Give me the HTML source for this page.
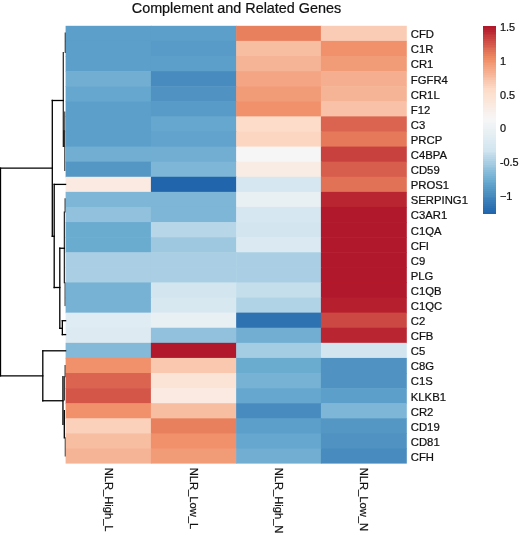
<!DOCTYPE html>
<html><head><meta charset="utf-8"><title>Complement and Related Genes</title>
<style>html,body{margin:0;padding:0;background:#fff}svg{display:block;will-change:transform}text{font-family:"Liberation Sans",Arial,Helvetica,sans-serif;fill:#111;stroke:#111;stroke-width:0.22px}</style></head><body>
<svg width="520" height="534" viewBox="0 0 520 534">
<rect width="520" height="534" fill="#fff"/>
<text x="236.5" y="12.7" font-size="15.1" text-anchor="middle" textLength="209.5" lengthAdjust="spacingAndGlyphs">Complement and Related Genes</text>
<g>
<rect x="65.60" y="25.80" width="85.90" height="15.70" fill="#5c9fca"/>
<rect x="150.90" y="25.80" width="85.85" height="15.70" fill="#5c9fca"/>
<rect x="236.15" y="25.80" width="85.35" height="15.70" fill="#e9805d"/>
<rect x="320.90" y="25.80" width="85.90" height="15.70" fill="#faccb5"/>
<rect x="65.60" y="40.90" width="85.90" height="15.70" fill="#5c9fca"/>
<rect x="150.90" y="40.90" width="85.85" height="15.70" fill="#589bc8"/>
<rect x="236.15" y="40.90" width="85.35" height="15.70" fill="#f8bea2"/>
<rect x="320.90" y="40.90" width="85.90" height="15.70" fill="#f0916b"/>
<rect x="65.60" y="55.99" width="85.90" height="15.70" fill="#5c9fca"/>
<rect x="150.90" y="55.99" width="85.85" height="15.70" fill="#5c9fca"/>
<rect x="236.15" y="55.99" width="85.35" height="15.70" fill="#f6b496"/>
<rect x="320.90" y="55.99" width="85.90" height="15.70" fill="#f29b77"/>
<rect x="65.60" y="71.09" width="85.90" height="15.70" fill="#71aed2"/>
<rect x="150.90" y="71.09" width="85.85" height="15.70" fill="#478bbf"/>
<rect x="236.15" y="71.09" width="85.35" height="15.70" fill="#f4a584"/>
<rect x="320.90" y="71.09" width="85.90" height="15.70" fill="#f5af90"/>
<rect x="65.60" y="86.19" width="85.90" height="15.70" fill="#65a7ce"/>
<rect x="150.90" y="86.19" width="85.85" height="15.70" fill="#5093c3"/>
<rect x="236.15" y="86.19" width="85.35" height="15.70" fill="#f29b77"/>
<rect x="320.90" y="86.19" width="85.90" height="15.70" fill="#f6b496"/>
<rect x="65.60" y="101.28" width="85.90" height="15.70" fill="#5c9fca"/>
<rect x="150.90" y="101.28" width="85.85" height="15.70" fill="#589bc8"/>
<rect x="236.15" y="101.28" width="85.35" height="15.70" fill="#f0916b"/>
<rect x="320.90" y="101.28" width="85.90" height="15.70" fill="#f9c2a8"/>
<rect x="65.60" y="116.38" width="85.90" height="15.70" fill="#5c9fca"/>
<rect x="150.90" y="116.38" width="85.85" height="15.70" fill="#65a7ce"/>
<rect x="236.15" y="116.38" width="85.35" height="15.70" fill="#fdddca"/>
<rect x="320.90" y="116.38" width="85.90" height="15.70" fill="#db6450"/>
<rect x="65.60" y="131.48" width="85.90" height="15.70" fill="#5c9fca"/>
<rect x="150.90" y="131.48" width="85.85" height="15.70" fill="#61a3cc"/>
<rect x="236.15" y="131.48" width="85.35" height="15.70" fill="#fcd6c1"/>
<rect x="320.90" y="131.48" width="85.90" height="15.70" fill="#e6795a"/>
<rect x="65.60" y="146.57" width="85.90" height="15.70" fill="#71aed2"/>
<rect x="150.90" y="146.57" width="85.85" height="15.70" fill="#71aed2"/>
<rect x="236.15" y="146.57" width="85.35" height="15.70" fill="#f7f6f6"/>
<rect x="320.90" y="146.57" width="85.90" height="15.70" fill="#c8413f"/>
<rect x="65.60" y="161.67" width="85.90" height="15.70" fill="#5497c5"/>
<rect x="150.90" y="161.67" width="85.85" height="15.70" fill="#7db6d6"/>
<rect x="236.15" y="161.67" width="85.35" height="15.70" fill="#f9ece4"/>
<rect x="320.90" y="161.67" width="85.90" height="15.70" fill="#d75d4c"/>
<rect x="65.60" y="176.77" width="85.90" height="15.70" fill="#faeae1"/>
<rect x="150.90" y="176.77" width="85.85" height="15.70" fill="#2166ac"/>
<rect x="236.15" y="176.77" width="85.35" height="15.70" fill="#d6e7f1"/>
<rect x="320.90" y="176.77" width="85.90" height="15.70" fill="#e27256"/>
<rect x="65.60" y="191.86" width="85.90" height="15.70" fill="#7db6d6"/>
<rect x="150.90" y="191.86" width="85.85" height="15.70" fill="#7db6d6"/>
<rect x="236.15" y="191.86" width="85.35" height="15.70" fill="#e8f0f4"/>
<rect x="320.90" y="191.86" width="85.90" height="15.70" fill="#b92632"/>
<rect x="65.60" y="206.96" width="85.90" height="15.70" fill="#91c1dc"/>
<rect x="150.90" y="206.96" width="85.85" height="15.70" fill="#7db6d6"/>
<rect x="236.15" y="206.96" width="85.35" height="15.70" fill="#d6e7f1"/>
<rect x="320.90" y="206.96" width="85.90" height="15.70" fill="#b2182b"/>
<rect x="65.60" y="222.06" width="85.90" height="15.70" fill="#6aabd0"/>
<rect x="150.90" y="222.06" width="85.85" height="15.70" fill="#b7d6e8"/>
<rect x="236.15" y="222.06" width="85.35" height="15.70" fill="#d3e6f0"/>
<rect x="320.90" y="222.06" width="85.90" height="15.70" fill="#b2182b"/>
<rect x="65.60" y="237.15" width="85.90" height="15.70" fill="#6aabd0"/>
<rect x="150.90" y="237.15" width="85.85" height="15.70" fill="#9ec8e0"/>
<rect x="236.15" y="237.15" width="85.35" height="15.70" fill="#dae9f2"/>
<rect x="320.90" y="237.15" width="85.90" height="15.70" fill="#b2182b"/>
<rect x="65.60" y="252.25" width="85.90" height="15.70" fill="#aacfe4"/>
<rect x="150.90" y="252.25" width="85.85" height="15.70" fill="#aacfe4"/>
<rect x="236.15" y="252.25" width="85.35" height="15.70" fill="#aacfe4"/>
<rect x="320.90" y="252.25" width="85.90" height="15.70" fill="#b2182b"/>
<rect x="65.60" y="267.34" width="85.90" height="15.70" fill="#aacfe4"/>
<rect x="150.90" y="267.34" width="85.85" height="15.70" fill="#aacfe4"/>
<rect x="236.15" y="267.34" width="85.35" height="15.70" fill="#aacfe4"/>
<rect x="320.90" y="267.34" width="85.90" height="15.70" fill="#b2182b"/>
<rect x="65.60" y="282.44" width="85.90" height="15.70" fill="#77b2d4"/>
<rect x="150.90" y="282.44" width="85.85" height="15.70" fill="#d3e6f0"/>
<rect x="236.15" y="282.44" width="85.35" height="15.70" fill="#c4deec"/>
<rect x="320.90" y="282.44" width="85.90" height="15.70" fill="#b2182b"/>
<rect x="65.60" y="297.54" width="85.90" height="15.70" fill="#77b2d4"/>
<rect x="150.90" y="297.54" width="85.85" height="15.70" fill="#d8e8f1"/>
<rect x="236.15" y="297.54" width="85.35" height="15.70" fill="#b1d3e6"/>
<rect x="320.90" y="297.54" width="85.90" height="15.70" fill="#b61f2e"/>
<rect x="65.60" y="312.63" width="85.90" height="15.70" fill="#dfecf3"/>
<rect x="150.90" y="312.63" width="85.85" height="15.70" fill="#e8f0f4"/>
<rect x="236.15" y="312.63" width="85.35" height="15.70" fill="#2e72b2"/>
<rect x="320.90" y="312.63" width="85.90" height="15.70" fill="#cc4842"/>
<rect x="65.60" y="327.73" width="85.90" height="15.70" fill="#ddeaf2"/>
<rect x="150.90" y="327.73" width="85.85" height="15.70" fill="#91c1dc"/>
<rect x="236.15" y="327.73" width="85.35" height="15.70" fill="#71aed2"/>
<rect x="320.90" y="327.73" width="85.90" height="15.70" fill="#b92632"/>
<rect x="65.60" y="342.83" width="85.90" height="15.70" fill="#84b9d8"/>
<rect x="150.90" y="342.83" width="85.85" height="15.70" fill="#b2182b"/>
<rect x="236.15" y="342.83" width="85.35" height="15.70" fill="#a4cce2"/>
<rect x="320.90" y="342.83" width="85.90" height="15.70" fill="#d3e6f0"/>
<rect x="65.60" y="357.92" width="85.90" height="15.70" fill="#f0916b"/>
<rect x="150.90" y="357.92" width="85.85" height="15.70" fill="#fac7af"/>
<rect x="236.15" y="357.92" width="85.35" height="15.70" fill="#6aabd0"/>
<rect x="320.90" y="357.92" width="85.90" height="15.70" fill="#5093c3"/>
<rect x="65.60" y="373.02" width="85.90" height="15.70" fill="#db6450"/>
<rect x="150.90" y="373.02" width="85.85" height="15.70" fill="#fbe3d6"/>
<rect x="236.15" y="373.02" width="85.35" height="15.70" fill="#77b2d4"/>
<rect x="320.90" y="373.02" width="85.90" height="15.70" fill="#5093c3"/>
<rect x="65.60" y="388.12" width="85.90" height="15.70" fill="#d35649"/>
<rect x="150.90" y="388.12" width="85.85" height="15.70" fill="#faeae1"/>
<rect x="236.15" y="388.12" width="85.35" height="15.70" fill="#65a7ce"/>
<rect x="320.90" y="388.12" width="85.90" height="15.70" fill="#5c9fca"/>
<rect x="65.60" y="403.21" width="85.90" height="15.70" fill="#f0916b"/>
<rect x="150.90" y="403.21" width="85.85" height="15.70" fill="#f8bea2"/>
<rect x="236.15" y="403.21" width="85.35" height="15.70" fill="#478bbf"/>
<rect x="320.90" y="403.21" width="85.90" height="15.70" fill="#7db6d6"/>
<rect x="65.60" y="418.31" width="85.90" height="15.70" fill="#fbd1bb"/>
<rect x="150.90" y="418.31" width="85.85" height="15.70" fill="#e9805d"/>
<rect x="236.15" y="418.31" width="85.35" height="15.70" fill="#5c9fca"/>
<rect x="320.90" y="418.31" width="85.90" height="15.70" fill="#5497c5"/>
<rect x="65.60" y="433.41" width="85.90" height="15.70" fill="#f8bea2"/>
<rect x="150.90" y="433.41" width="85.85" height="15.70" fill="#f0916b"/>
<rect x="236.15" y="433.41" width="85.35" height="15.70" fill="#65a7ce"/>
<rect x="320.90" y="433.41" width="85.90" height="15.70" fill="#5093c3"/>
<rect x="65.60" y="448.50" width="85.90" height="15.10" fill="#f6b496"/>
<rect x="150.90" y="448.50" width="85.85" height="15.10" fill="#f29b77"/>
<rect x="236.15" y="448.50" width="85.35" height="15.10" fill="#71aed2"/>
<rect x="320.90" y="448.50" width="85.90" height="15.10" fill="#478bbf"/>
</g>
<g font-size="11.3">
<text x="410.8" y="38.25">CFD</text>
<text x="410.8" y="53.34">C1R</text>
<text x="410.8" y="68.44">CR1</text>
<text x="410.8" y="83.54">FGFR4</text>
<text x="410.8" y="98.63">CR1L</text>
<text x="410.8" y="113.73">F12</text>
<text x="410.8" y="128.83">C3</text>
<text x="410.8" y="143.92">PRCP</text>
<text x="410.8" y="159.02">C4BPA</text>
<text x="410.8" y="174.12">CD59</text>
<text x="410.8" y="189.21">PROS1</text>
<text x="410.8" y="204.31">SERPING1</text>
<text x="410.8" y="219.41">C3AR1</text>
<text x="410.8" y="234.50">C1QA</text>
<text x="410.8" y="249.60">CFI</text>
<text x="410.8" y="264.70">C9</text>
<text x="410.8" y="279.79">PLG</text>
<text x="410.8" y="294.89">C1QB</text>
<text x="410.8" y="309.99">C1QC</text>
<text x="410.8" y="325.08">C2</text>
<text x="410.8" y="340.18">CFB</text>
<text x="410.8" y="355.28">C5</text>
<text x="410.8" y="370.37">C8G</text>
<text x="410.8" y="385.47">C1S</text>
<text x="410.8" y="400.57">KLKB1</text>
<text x="410.8" y="415.66">CR2</text>
<text x="410.8" y="430.76">CD19</text>
<text x="410.8" y="445.86">CD81</text>
<text x="410.8" y="460.95">CFH</text>
</g>
<g font-size="11.17">
<text transform="translate(104.85,467.7) rotate(90)">NLR_High_L</text>
<text transform="translate(190.12,467.7) rotate(90)">NLR_Low_L</text>
<text transform="translate(275.12,467.7) rotate(90)">NLR_High_N</text>
<text transform="translate(360.45,467.7) rotate(90)">NLR_Low_N</text>
</g>
<g shape-rendering="crispEdges">
<rect x="482.90" y="26.00" width="12.60" height="2.27" fill="#b2182b"/>
<rect x="482.90" y="27.87" width="12.60" height="2.27" fill="#b61f2e"/>
<rect x="482.90" y="29.75" width="12.60" height="2.27" fill="#b92632"/>
<rect x="482.90" y="31.62" width="12.60" height="2.27" fill="#bd2d35"/>
<rect x="482.90" y="33.50" width="12.60" height="2.27" fill="#c13438"/>
<rect x="482.90" y="35.37" width="12.60" height="2.27" fill="#c43b3c"/>
<rect x="482.90" y="37.24" width="12.60" height="2.27" fill="#c8413f"/>
<rect x="482.90" y="39.12" width="12.60" height="2.27" fill="#cc4842"/>
<rect x="482.90" y="40.99" width="12.60" height="2.27" fill="#d04f46"/>
<rect x="482.90" y="42.87" width="12.60" height="2.27" fill="#d35649"/>
<rect x="482.90" y="44.74" width="12.60" height="2.27" fill="#d75d4c"/>
<rect x="482.90" y="46.61" width="12.60" height="2.27" fill="#db6450"/>
<rect x="482.90" y="48.49" width="12.60" height="2.27" fill="#de6b53"/>
<rect x="482.90" y="50.36" width="12.60" height="2.27" fill="#e27256"/>
<rect x="482.90" y="52.24" width="12.60" height="2.27" fill="#e6795a"/>
<rect x="482.90" y="54.11" width="12.60" height="2.27" fill="#e9805d"/>
<rect x="482.90" y="55.98" width="12.60" height="2.27" fill="#ed8760"/>
<rect x="482.90" y="57.86" width="12.60" height="2.27" fill="#ef8c65"/>
<rect x="482.90" y="59.73" width="12.60" height="2.27" fill="#f0916b"/>
<rect x="482.90" y="61.61" width="12.60" height="2.27" fill="#f19671"/>
<rect x="482.90" y="63.48" width="12.60" height="2.27" fill="#f29b77"/>
<rect x="482.90" y="65.35" width="12.60" height="2.27" fill="#f3a07e"/>
<rect x="482.90" y="67.23" width="12.60" height="2.27" fill="#f4a584"/>
<rect x="482.90" y="69.10" width="12.60" height="2.27" fill="#f5aa8a"/>
<rect x="482.90" y="70.98" width="12.60" height="2.27" fill="#f5af90"/>
<rect x="482.90" y="72.85" width="12.60" height="2.27" fill="#f6b496"/>
<rect x="482.90" y="74.72" width="12.60" height="2.27" fill="#f7b99c"/>
<rect x="482.90" y="76.60" width="12.60" height="2.27" fill="#f8bea2"/>
<rect x="482.90" y="78.47" width="12.60" height="2.27" fill="#f9c2a8"/>
<rect x="482.90" y="80.35" width="12.60" height="2.27" fill="#fac7af"/>
<rect x="482.90" y="82.22" width="12.60" height="2.27" fill="#faccb5"/>
<rect x="482.90" y="84.09" width="12.60" height="2.27" fill="#fbd1bb"/>
<rect x="482.90" y="85.97" width="12.60" height="2.27" fill="#fcd6c1"/>
<rect x="482.90" y="87.84" width="12.60" height="2.27" fill="#fddbc7"/>
<rect x="482.90" y="89.72" width="12.60" height="2.27" fill="#fdddca"/>
<rect x="482.90" y="91.59" width="12.60" height="2.27" fill="#fcdecd"/>
<rect x="482.90" y="93.46" width="12.60" height="2.27" fill="#fce0d0"/>
<rect x="482.90" y="95.34" width="12.60" height="2.27" fill="#fce2d3"/>
<rect x="482.90" y="97.21" width="12.60" height="2.27" fill="#fbe3d6"/>
<rect x="482.90" y="99.09" width="12.60" height="2.27" fill="#fbe5d8"/>
<rect x="482.90" y="100.96" width="12.60" height="2.27" fill="#fae7db"/>
<rect x="482.90" y="102.83" width="12.60" height="2.27" fill="#fae9de"/>
<rect x="482.90" y="104.71" width="12.60" height="2.27" fill="#faeae1"/>
<rect x="482.90" y="106.58" width="12.60" height="2.27" fill="#f9ece4"/>
<rect x="482.90" y="108.46" width="12.60" height="2.27" fill="#f9eee7"/>
<rect x="482.90" y="110.33" width="12.60" height="2.27" fill="#f9efea"/>
<rect x="482.90" y="112.20" width="12.60" height="2.27" fill="#f8f1ed"/>
<rect x="482.90" y="114.08" width="12.60" height="2.27" fill="#f8f3f0"/>
<rect x="482.90" y="115.95" width="12.60" height="2.27" fill="#f8f4f3"/>
<rect x="482.90" y="117.83" width="12.60" height="2.27" fill="#f7f6f6"/>
<rect x="482.90" y="119.70" width="12.60" height="2.27" fill="#f6f6f7"/>
<rect x="482.90" y="121.57" width="12.60" height="2.27" fill="#f4f5f6"/>
<rect x="482.90" y="123.45" width="12.60" height="2.27" fill="#f1f4f6"/>
<rect x="482.90" y="125.32" width="12.60" height="2.27" fill="#eff3f6"/>
<rect x="482.90" y="127.20" width="12.60" height="2.27" fill="#edf2f5"/>
<rect x="482.90" y="129.07" width="12.60" height="2.27" fill="#eaf1f5"/>
<rect x="482.90" y="130.94" width="12.60" height="2.27" fill="#e8f0f4"/>
<rect x="482.90" y="132.82" width="12.60" height="2.27" fill="#e6eff4"/>
<rect x="482.90" y="134.69" width="12.60" height="2.27" fill="#e3eef3"/>
<rect x="482.90" y="136.57" width="12.60" height="2.27" fill="#e1edf3"/>
<rect x="482.90" y="138.44" width="12.60" height="2.27" fill="#dfecf3"/>
<rect x="482.90" y="140.31" width="12.60" height="2.27" fill="#ddeaf2"/>
<rect x="482.90" y="142.19" width="12.60" height="2.27" fill="#dae9f2"/>
<rect x="482.90" y="144.06" width="12.60" height="2.27" fill="#d8e8f1"/>
<rect x="482.90" y="145.94" width="12.60" height="2.27" fill="#d6e7f1"/>
<rect x="482.90" y="147.81" width="12.60" height="2.27" fill="#d3e6f0"/>
<rect x="482.90" y="149.68" width="12.60" height="2.27" fill="#d1e5f0"/>
<rect x="482.90" y="151.56" width="12.60" height="2.27" fill="#cbe1ee"/>
<rect x="482.90" y="153.43" width="12.60" height="2.27" fill="#c4deec"/>
<rect x="482.90" y="155.31" width="12.60" height="2.27" fill="#bedaea"/>
<rect x="482.90" y="157.18" width="12.60" height="2.27" fill="#b7d6e8"/>
<rect x="482.90" y="159.05" width="12.60" height="2.27" fill="#b1d3e6"/>
<rect x="482.90" y="160.93" width="12.60" height="2.27" fill="#aacfe4"/>
<rect x="482.90" y="162.80" width="12.60" height="2.27" fill="#a4cce2"/>
<rect x="482.90" y="164.68" width="12.60" height="2.27" fill="#9ec8e0"/>
<rect x="482.90" y="166.55" width="12.60" height="2.27" fill="#97c4de"/>
<rect x="482.90" y="168.42" width="12.60" height="2.27" fill="#91c1dc"/>
<rect x="482.90" y="170.30" width="12.60" height="2.27" fill="#8abdda"/>
<rect x="482.90" y="172.17" width="12.60" height="2.27" fill="#84b9d8"/>
<rect x="482.90" y="174.05" width="12.60" height="2.27" fill="#7db6d6"/>
<rect x="482.90" y="175.92" width="12.60" height="2.27" fill="#77b2d4"/>
<rect x="482.90" y="177.79" width="12.60" height="2.27" fill="#71aed2"/>
<rect x="482.90" y="179.67" width="12.60" height="2.27" fill="#6aabd0"/>
<rect x="482.90" y="181.54" width="12.60" height="2.27" fill="#65a7ce"/>
<rect x="482.90" y="183.42" width="12.60" height="2.27" fill="#61a3cc"/>
<rect x="482.90" y="185.29" width="12.60" height="2.27" fill="#5c9fca"/>
<rect x="482.90" y="187.16" width="12.60" height="2.27" fill="#589bc8"/>
<rect x="482.90" y="189.04" width="12.60" height="2.27" fill="#5497c5"/>
<rect x="482.90" y="190.91" width="12.60" height="2.27" fill="#5093c3"/>
<rect x="482.90" y="192.79" width="12.60" height="2.27" fill="#4b8fc1"/>
<rect x="482.90" y="194.66" width="12.60" height="2.27" fill="#478bbf"/>
<rect x="482.90" y="196.53" width="12.60" height="2.27" fill="#4386bd"/>
<rect x="482.90" y="198.41" width="12.60" height="2.27" fill="#3f82bb"/>
<rect x="482.90" y="200.28" width="12.60" height="2.27" fill="#3a7eb9"/>
<rect x="482.90" y="202.16" width="12.60" height="2.27" fill="#367ab7"/>
<rect x="482.90" y="204.03" width="12.60" height="2.27" fill="#3276b4"/>
<rect x="482.90" y="205.90" width="12.60" height="2.27" fill="#2e72b2"/>
<rect x="482.90" y="207.78" width="12.60" height="2.27" fill="#296eb0"/>
<rect x="482.90" y="209.65" width="12.60" height="2.27" fill="#256aae"/>
<rect x="482.90" y="211.53" width="12.60" height="2.27" fill="#2166ac"/>
</g>
<g font-size="10.9">
<text x="499.9" y="31.20">1.5</text>
<text x="499.9" y="64.90">1</text>
<text x="499.9" y="98.60">0.5</text>
<text x="499.9" y="132.20">0</text>
<text x="499.9" y="165.90">-0.5</text>
<text x="499.9" y="199.60">−1</text>
</g>
<path d="M0.50 168.20L0.50 375.80" stroke="#000" stroke-width="1.30" fill="none" stroke-linecap="square"/>
<path d="M0.50 168.20L52.30 168.20" stroke="#000" stroke-width="1.30" fill="none" stroke-linecap="square"/>
<path d="M0.50 375.80L42.80 375.80" stroke="#000" stroke-width="1.30" fill="none" stroke-linecap="square"/>
<path d="M42.80 350.80L42.80 400.75" stroke="#000" stroke-width="1.30" fill="none" stroke-linecap="square"/>
<path d="M42.80 350.80L65.60 350.80" stroke="#000" stroke-width="1.30" fill="none" stroke-linecap="square"/>
<path d="M42.80 400.75L62.95 400.75" stroke="#000" stroke-width="1.30" fill="none" stroke-linecap="square"/>
<path d="M65.05 365.50L65.05 376.75" stroke="#000" stroke-width="0.85" fill="none" stroke-linecap="square"/>
<path d="M62.95 376.75L62.95 424.25" stroke="#000" stroke-width="1.30" fill="none" stroke-linecap="square"/>
<path d="M64.30 376.75L64.30 400.00" stroke="#000" stroke-width="0.95" fill="none" stroke-linecap="square"/>
<path d="M64.30 410.75L64.30 437.75" stroke="#000" stroke-width="1.30" fill="none" stroke-linecap="square"/>
<path d="M65.20 437.75L65.20 456.00" stroke="#000" stroke-width="0.75" fill="none" stroke-linecap="square"/>
<path d="M52.30 100.50L52.30 236.25" stroke="#000" stroke-width="1.30" fill="none" stroke-linecap="square"/>
<path d="M52.30 100.50L63.25 100.50" stroke="#000" stroke-width="1.30" fill="none" stroke-linecap="square"/>
<path d="M52.30 236.25L54.20 236.25" stroke="#000" stroke-width="1.30" fill="none" stroke-linecap="square"/>
<path d="M54.20 184.40L54.20 287.50" stroke="#000" stroke-width="1.30" fill="none" stroke-linecap="square"/>
<path d="M54.20 184.40L65.60 184.40" stroke="#000" stroke-width="1.30" fill="none" stroke-linecap="square"/>
<path d="M54.20 287.50L59.80 287.50" stroke="#000" stroke-width="1.30" fill="none" stroke-linecap="square"/>
<path d="M59.80 248.25L59.80 328.30" stroke="#000" stroke-width="1.30" fill="none" stroke-linecap="square"/>
<path d="M59.80 248.25L64.30 248.25" stroke="#000" stroke-width="1.30" fill="none" stroke-linecap="square"/>
<path d="M59.80 328.30L62.35 328.30" stroke="#000" stroke-width="1.30" fill="none" stroke-linecap="square"/>
<path d="M62.35 320.70L62.35 334.60" stroke="#000" stroke-width="1.30" fill="none" stroke-linecap="square"/>
<path d="M62.35 320.70L65.60 320.70" stroke="#000" stroke-width="1.30" fill="none" stroke-linecap="square"/>
<path d="M62.35 334.60L65.60 334.60" stroke="#000" stroke-width="1.30" fill="none" stroke-linecap="square"/>
<path d="M65.20 33.00L65.20 52.50" stroke="#000" stroke-width="0.85" fill="none" stroke-linecap="square"/>
<path d="M63.25 52.50L63.25 146.50" stroke="#000" stroke-width="1.05" fill="none" stroke-linecap="square"/>
<path d="M64.00 130.70L64.00 146.50" stroke="#000" stroke-width="0.95" fill="none" stroke-linecap="square"/>
<path d="M64.75 112.00L64.75 170.50" stroke="#000" stroke-width="0.85" fill="none" stroke-linecap="square"/>
<path d="M65.05 198.75L65.05 212.00" stroke="#000" stroke-width="0.85" fill="none" stroke-linecap="square"/>
<path d="M64.30 212.00L64.30 282.80" stroke="#000" stroke-width="1.05" fill="none" stroke-linecap="square"/>
<path d="M65.00 282.80L65.00 305.60" stroke="#000" stroke-width="0.75" fill="none" stroke-linecap="square"/>
</svg></body></html>
